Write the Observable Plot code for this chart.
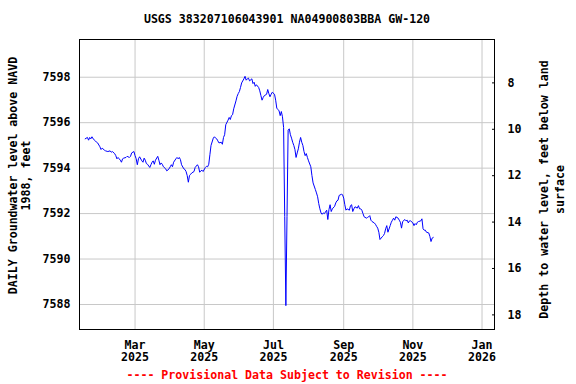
<!DOCTYPE html>
<html><head><meta charset="utf-8">
<script src="https://cdn.jsdelivr.net/npm/d3@7"></script>
<script src="https://cdn.jsdelivr.net/npm/@observablehq/plot@0.6"></script>
<style>body{margin:0;background:#fff}</style>
</head><body><div id="chart"></div>
<script>
const titleText = "USGS 383207106043901 NA04900803BBA GW-120";
const leftLabel = "DAILY Groundwater level above NAVD\n1988, feet";
const rightLabel = "Depth to water level, feet below land\nsurface";
const footerText = "---- Provisional Data Subject to Revision ----";

// day of year 2025 of each daily reading
const days = [16,18,19,20,21,22,23,25,26,27,
  29,30,31,33,34,36,38,39,40,42,
  43,44,45,46,47,48,49,50,52,53,
  55,56,57,59,60,61,62,63,64,66,
  67,68,69,70,71,73,74,75,76,77,
  78,80,81,82,83,84,85,87,88,90,
  91,92,93,94,96,97,98,99,100,101,
  103,104,105,106,107,108,109,110,112,113,
  115,116,117,118,119,120,122,123,124,125,
  126,127,129,130,131,132,133,134,136,137,
  138,139,140,142,143,144,145,146,147,149,
  150,151,152,153,154,156,157,158,159,160,
  161,163,164,165,166,167,169,170,171,172,
  173,174,176,177,178,179,180,181,183,184,
  185,186,187,188,189,190,191,192,193,194,
  195,196,197,198,199,200,201,202,203,204,
  205,206,207,208,209,210,211,212,213,215,
  216,217,219,220,221,222,223,224,225,226,
  227,229,230,231,232,233,234,236,237,238,
  239,240,242,243,244,245,246,247,249,250,
  251,252,253,254,256,257,258,259,260,261,
  262,264,265,266,267,268,269,271,272,273,
  274,275,276,278,279,280,281,282,283,285,
  286,287,288,289,290,292,293,294,295,296,
  298,299,300,301,302,303,305,306,307,308,
  309,310,312,313,314,315,316,317,319,320,
  321,322,323];
// groundwater level above NAVD 1988, feet
const levels = [7595.29,7595.35,7595.23,7595.35,7595.29,7595.38,7595.29,7595.20,7595.14,7595.11,
  7594.94,7594.82,7594.88,7594.79,7594.76,7594.73,7594.76,7594.70,7594.73,7594.64,
  7594.55,7594.41,7594.47,7594.41,7594.35,7594.26,7594.41,7594.44,7594.47,7594.52,
  7594.47,7594.52,7594.67,7594.73,7594.55,7594.41,7594.15,7594.41,7594.50,7594.32,
  7594.26,7594.44,7594.35,7594.20,7594.17,7594.03,7594.15,7594.26,7594.32,7594.17,
  7594.35,7594.52,7594.35,7594.15,7594.23,7594.17,7594.06,7593.97,7593.88,7593.97,
  7594.06,7594.15,7594.06,7594.26,7594.41,7594.47,7594.41,7594.47,7594.38,7594.15,
  7593.97,7593.94,7593.85,7593.67,7593.38,7593.67,7593.73,7593.79,7593.85,7594.03,
  7594.15,7594.06,7593.82,7593.88,7593.91,7593.85,7594.03,7594.08,7594.06,7594.17,
  7594.59,7595.00,7595.32,7595.38,7595.32,7595.29,7595.20,7595.11,7595.14,7595.05,
  7595.35,7595.47,7595.91,7596.11,7596.23,7596.14,7596.31,7596.35,7596.61,7596.96,
  7597.16,7597.28,7597.37,7597.55,7597.75,7597.93,7598.04,7597.87,7597.93,7597.96,
  7597.84,7597.93,7597.72,7597.78,7597.60,7597.67,7597.55,7597.40,7597.19,7596.99,
  7597.11,7597.19,7597.25,7597.46,7597.28,7597.14,7597.25,7597.34,7597.25,7596.99,
  7596.64,7596.58,7596.52,7596.31,7596.49,7596.26,7595.79,7591.87,7587.95,7591.87,
  7595.67,7595.73,7595.47,7595.32,7595.14,7595.00,7594.82,7594.47,7594.67,7594.85,
  7595.14,7595.35,7595.14,7595.00,7594.73,7594.55,7594.64,7594.47,7594.32,7594.06,
  7593.67,7593.35,7593.06,7592.91,7592.74,7592.44,7592.21,7592.03,7591.97,7592.03,
  7592.00,7592.15,7591.74,7592.18,7592.39,7592.09,7592.21,7592.32,7592.47,7592.56,
  7592.59,7592.80,7592.85,7592.83,7592.68,7592.39,7592.15,7592.21,7592.15,7592.35,
  7592.39,7592.09,7592.21,7592.30,7592.24,7592.35,7592.21,7592.21,7592.15,7592.00,
  7591.86,7591.80,7591.83,7591.86,7591.91,7591.71,7591.65,7591.59,7591.53,7591.44,
  7591.36,7591.18,7590.86,7590.98,7591.03,7591.12,7591.33,7591.47,7591.18,7591.47,
  7591.62,7591.71,7591.80,7591.71,7591.86,7591.80,7591.71,7591.62,7591.36,7591.65,
  7591.74,7591.68,7591.71,7591.59,7591.68,7591.68,7591.59,7591.47,7591.56,7591.51,
  7591.62,7591.65,7591.68,7591.77,7591.33,7591.27,7591.27,7591.18,7591.15,7591.00,
  7590.77,7590.92,7590.95];

const xTickDates = ["2025-03-01","2025-05-01","2025-07-01","2025-09-01","2025-11-01","2026-01-01"];
const xDomain = ["2025-01-11","2026-01-12"];
const yTicks = [7588,7590,7592,7594,7596,7598];
const yDomain = [7586.9, 7599.66];
const depthTicks = [8,10,12,14,16,18];
const depthDomain = [6.13, 18.63]; // depth at top and bottom of frame

const data = days.map((d, i) => ({date: new Date(Date.UTC(2025, 0, d)), level: levels[i]}));
const xTicks = xTickDates.map(s => new Date(s + "T00:00:00Z"));
const [yBot, yTop] = yDomain;
const depthToY = d3.scaleLinear().domain(depthDomain).range([yTop, yBot]);
const depthPos = depthTicks.map(depthToY);

const font = "'DejaVu Sans Mono', monospace";
const chart = Plot.plot({
  width: 576, height: 384,
  marginLeft: 79, marginRight: 82, marginTop: 39, marginBottom: 55,
  style: {fontFamily: font, fontSize: "11.6px", fontWeight: "bold", color: "black", background: "white"},
  x: {type: "utc", domain: xDomain.map(s => new Date(s + "T00:00:00Z"))},
  y: {domain: yDomain},
  marks: [
    Plot.gridX(xTicks, {stroke: "#c8c8c8", strokeOpacity: 1}),
    Plot.gridY(yTicks, {stroke: "#c8c8c8", strokeOpacity: 1}),
    Plot.lineY(data, {x: "date", y: "level", stroke: "#0000ff", strokeWidth: 1}),
    Plot.frame({stroke: "black", strokeWidth: 1}),
    Plot.axisX(xTicks, {tickSize: 0, tickPadding: 10, tickFormat: d3.utcFormat("%b\n%Y"), label: null, lineHeight: 1.1}),
    Plot.axisY(yTicks, {anchor: "left", tickSize: 0, tickPadding: 9, tickFormat: "d", label: null}),
    Plot.axisY(depthPos, {anchor: "right", tickSize: -3, tickPadding: 16,
      tickFormat: v => String(Math.round(depthToY.invert(v))), label: null}),
    Plot.text([titleText], {text: d => d, frameAnchor: "top", dy: -20, lineAnchor: "middle"}),
    Plot.text([footerText], {text: d => d, frameAnchor: "bottom", dy: 46, lineAnchor: "middle", fill: "#ff0000"}),
    Plot.text([leftLabel], {text: d => d, frameAnchor: "left", dx: -60.5, dy: -9, rotate: -90,
      textAnchor: "middle", lineAnchor: "middle", lineHeight: 1.12}),
    Plot.text([rightLabel], {text: d => d, frameAnchor: "right", dx: 56, dy: 5, rotate: -90,
      textAnchor: "middle", lineAnchor: "middle", lineHeight: 1.4})
  ]
});
document.getElementById("chart").appendChild(chart);
</script></body></html>
